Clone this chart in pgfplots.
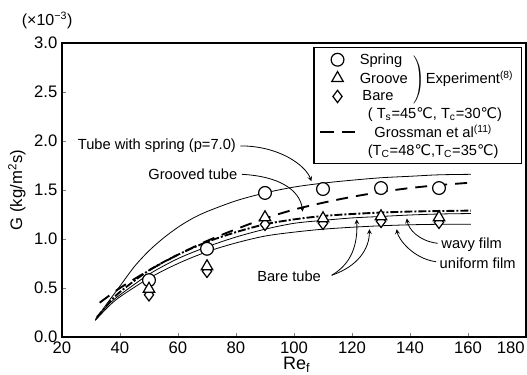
\documentclass[border=0pt]{standalone}
\usepackage{pgfplots}
\pgfplotsset{compat=1.18}
\usepackage{fontspec}
\setmainfont{Liberation Sans}
\newfontfamily\dejavu{DejaVu Sans}
\newcommand{\degC}{{\dejavu\char"2103}}
\begin{document}
\begin{tikzpicture}[x=1pt,y=1pt]
\begin{axis}[
 at={(46.5pt,27.75pt)}, anchor=south west,
 scale only axis, width=348pt, height=220.5pt,
 xmin=20, xmax=180, ymin=0, ymax=3,
 xtick={20,40,60,80,100,120,140,160,180},
 xticklabels={20,40,60,80,100,120,140,160,\llap{180\hspace{1pt}}},
 ytick={0,0.5,1,1.5,2,2.5,3},
 yticklabel style={/pgf/number format/fixed,/pgf/number format/fixed zerofill,/pgf/number format/precision=1},
 /pgf/number format/assume math mode=true,
 tick align=inside, tick pos=left, major tick length=3pt,
 axis line style={line width=0.9pt},
 tick label style={font=\fontsize{12.5}{14}\selectfont},
 clip=false,
 legend image code/.code={\draw[mark repeat=2,mark phase=2,#1] plot coordinates {(0pt,0pt) (13pt,0pt) (27pt,0pt)};},
 legend style={at={(0.991,0.987)}, anchor=north east, draw, line width=0.9pt,
   font=\fontsize{11}{13}\selectfont, legend cell align=left,
   inner xsep=4pt, inner ysep=2.5pt, row sep=-0.4pt},
]
% curves
\addplot[forget plot, smooth, line width=0.6pt] coordinates {
(31.5,0.17) (35,0.32) (40,0.52) (45,0.72) (50,0.88) (55,1.01) (60,1.12) (65,1.21) (70,1.28) (80,1.39) (90,1.47) (100,1.53) (110,1.57) (120,1.60) (130,1.625) (140,1.64) (150,1.655) (161,1.66)};
\addplot[forget plot, smooth, line width=0.6pt] coordinates {
(31.5,0.18) (36,0.33) (40,0.43) (50,0.64) (60,0.80) (70,0.92) (80,1.02) (90,1.10) (100,1.16) (110,1.19) (120,1.215) (130,1.23) (140,1.245) (150,1.255) (161,1.26)};
\addplot[forget plot, smooth, line width=0.6pt] coordinates {
(31.5,0.17) (36,0.31) (40,0.41) (50,0.60) (60,0.75) (70,0.87) (80,0.96) (90,1.03) (100,1.07) (110,1.10) (120,1.12) (130,1.135) (140,1.145) (150,1.15) (161,1.15)};
\addplot[forget plot, smooth, line width=1.4pt, dash pattern=on 6pt off 1.5pt on 1.5pt off 1.5pt] coordinates {
(32,0.2) (36,0.34) (40,0.46) (50,0.68) (60,0.84) (70,0.97) (80,1.07) (90,1.15) (100,1.20) (110,1.235) (120,1.255) (130,1.27) (140,1.28) (150,1.285) (161,1.29)};
\addplot[forget plot, smooth, line width=1.4pt, dash pattern=on 9pt off 6pt] coordinates {
(33,0.35) (40,0.50) (50,0.68) (60,0.84) (70,0.98) (80,1.10) (90,1.21) (100,1.30) (110,1.37) (120,1.43) (130,1.48) (140,1.52) (150,1.55) (161,1.575)};
% experiment
\addplot[only marks, mark=*, mark size=4.8pt, mark options={line width=0.9pt, fill=white, draw=black}] coordinates {
(50,0.58) (70,0.90) (90,1.47) (110,1.51) (130,1.52) (150,1.52)};
\addlegendentry{Spring}
\addplot[only marks, mark=diamond*, mark size=4.6pt, mark options={line width=0.9pt, fill=white, draw=black}, forget plot] coordinates {
(50,0.43) (70,0.67) (90,1.15) (110,1.16) (130,1.18) (150,1.17)};
\addplot[only marks, mark=triangle*, mark size=5pt, mark options={line width=0.9pt, fill=white, draw=black}] coordinates {
(50,0.49) (70,0.72) (90,1.22) (110,1.21) (130,1.23) (150,1.22)};
\addlegendentry{Groove\hspace{3pt}\raisebox{0pt}[0pt][0pt]{$\left.\vcenter{\hbox{\rule{0pt}{34pt}}}\right)$}\hspace{0.5pt}Experiment\textsuperscript{(8)}}
\addlegendimage{only marks, mark=diamond*, mark size=4.6pt, mark options={line width=0.9pt, fill=white, draw=black}}
\addlegendentry{\hspace{2pt}Bare}
\addlegendimage{empty legend}
\addlegendentry{\hspace{6pt}( T\textsubscript{s}=45\degC, T\textsubscript{c}=30\degC)}
\addlegendimage{line width=1.4pt, dash pattern=on 10pt off 6pt}
\addlegendentry{\hspace{11pt}Grossman et al\textsuperscript{(11)}}
\addlegendimage{empty legend}
\addlegendentry{\hspace{6pt}(T\textsubscript{C}=48\degC ,T\textsubscript{C}=35\degC)}
% annotations
\begin{scope}[font=\fontsize{11}{13}\selectfont]
\node[anchor=east, inner sep=1pt] at (axis cs:80.5,1.95) {Tube with spring (p=7.0)};
\draw[-stealth, line width=0.6pt] (axis cs:81.5,1.95) .. controls (axis cs:95,1.95) and (axis cs:104,1.75) .. (axis cs:106,1.59);
\node[anchor=east, inner sep=1pt] at (axis cs:81,1.66) {Grooved tube};
\draw[-stealth, line width=0.6pt] (axis cs:82,1.66) .. controls (axis cs:95,1.64) and (axis cs:102,1.5) .. (axis cs:103,1.28);
\node[inner sep=1pt] at (axis cs:98.3,0.615) {Bare tube};
\draw[-stealth, line width=0.6pt] (axis cs:113,0.63) .. controls (axis cs:120,0.75) and (axis cs:122,0.95) .. (axis cs:121.6,1.20);
\draw[-stealth, line width=0.6pt] (axis cs:113,0.63) .. controls (axis cs:122,0.72) and (axis cs:126,0.9) .. (axis cs:126,1.10);
\node[anchor=west, inner sep=1pt] at (axis cs:150.3,0.946) {wavy film};
\draw[-stealth, line width=0.6pt] (axis cs:149.5,0.956) .. controls (axis cs:143,0.98) and (axis cs:139.5,1.1) .. (axis cs:138.9,1.21);
\node[anchor=west, inner sep=1pt] at (axis cs:149.7,0.752) {uniform film};
\draw[-stealth, line width=0.6pt] (axis cs:149,0.768) .. controls (axis cs:141,0.8) and (axis cs:136,1.0) .. (axis cs:135.4,1.10);
\end{scope}
\node[rotate=90, font=\fontsize{12.5}{14}\selectfont] at (rel axis cs:-0.097,0.5) {G (kg/m\textsuperscript{2}s)};
\node[font=\fontsize{12}{14}\selectfont] at (rel axis cs:-0.032,1.078) {(×10\textsuperscript{−3})};
\node[font=\fontsize{13.5}{15}\selectfont] at (rel axis cs:0.506,-0.095) {Re\textsubscript{f}};
\end{axis}
\pgfresetboundingbox
\path (0,0) rectangle (395.25pt,280.5pt);
\end{tikzpicture}
\end{document}
